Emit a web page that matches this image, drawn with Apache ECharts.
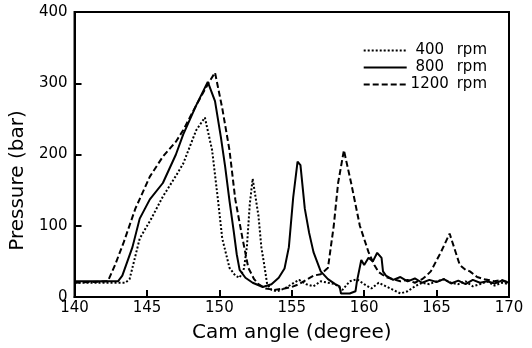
<!DOCTYPE html>
<html>
<head>
<meta charset="utf-8">
<script src="https://cdn.jsdelivr.net/npm/echarts@6/dist/echarts.min.js"></script>
<style>
  html, body { margin: 0; padding: 0; background: #fff; }
  #chart { width: 532px; height: 348px; }
</style>
</head>
<body>
<div id="chart"></div>
<script>
// cam angle (degree), pressure (bar)
const rpm400 = [
  [140, 20], [143.5, 20], [143.8, 25], [144.5, 82], [145.3, 110], [146.1, 141], [147, 170],
  [147.5, 187], [148.4, 234], [149, 252], [149.5, 206], [149.9, 137], [150.2, 82], [150.7, 41],
  [151.1, 30], [151.4, 27], [151.7, 40], [151.9, 70], [152.1, 130], [152.3, 166], [152.5, 140],
  [152.7, 114], [152.9, 70], [153.1, 45], [153.3, 18], [153.6, 10], [154, 8], [154.5, 12],
  [155, 18], [155.5, 24], [156, 18], [156.5, 15], [157, 22], [157.5, 20], [158, 18], [158.5, 10],
  [159, 22], [159.5, 25], [160, 18], [160.5, 12], [161, 20], [161.5, 15], [162, 10], [162.5, 5],
  [163, 8], [163.5, 15], [164, 20], [164.5, 18], [165, 22], [165.5, 25], [166, 20], [166.5, 18],
  [167, 22], [167.5, 15], [168, 18], [168.5, 22], [169, 16], [169.5, 20], [170, 18]
];

const rpm800 = [
  [140, 22], [143, 22], [143.3, 30], [144, 70], [144.5, 110], [145.2, 137], [146.1, 160],
  [147, 200], [147.5, 228], [148.4, 269], [149.2, 302], [149.7, 275], [150.1, 225], [150.4, 183],
  [150.7, 135], [151, 91], [151.2, 60], [151.4, 38], [151.8, 27], [152.3, 20], [153, 14],
  [153.6, 18], [154.1, 27], [154.5, 40], [154.8, 70], [155.1, 140], [155.4, 190], [155.6, 185],
  [155.9, 124], [156.2, 90], [156.5, 63], [157, 36], [157.5, 25], [158, 18], [158.3, 15],
  [158.4, 5], [159, 5], [159.4, 8], [159.5, 22], [159.8, 52], [160, 45], [160.3, 55], [160.6, 50],
  [160.9, 62], [161.2, 55], [161.3, 36], [161.5, 30], [162, 24], [162.5, 28], [163, 22],
  [163.5, 26], [164, 20], [164.5, 24], [165, 21], [165.5, 25], [166, 19], [166.5, 23], [167, 18],
  [167.5, 24], [168, 20], [168.5, 22], [169, 19], [169.5, 23], [170, 20]
];

const rpm1200 = [
  [140, 20], [142.3, 22], [142.8, 45], [143.4, 77], [144.2, 124], [145.2, 169], [146.1, 197],
  [147, 218], [147.5, 234], [148.4, 269], [149.3, 302], [149.7, 315], [150.2, 265], [150.7, 206],
  [151.1, 137], [151.6, 82], [152, 41], [152.4, 25], [152.7, 18], [153.2, 12], [153.8, 10],
  [154.5, 12], [155, 14], [155.5, 18], [156, 24], [156.5, 30], [157, 32], [157.5, 41],
  [157.9, 100], [158.2, 160], [158.6, 206], [159.1, 160], [159.7, 100], [160.3, 63], [160.7, 45],
  [161, 35], [161.5, 28], [162, 25], [162.5, 22], [163, 24], [163.5, 20], [164, 25], [164.3, 30],
  [164.6, 36], [165.3, 63], [165.9, 89], [166.6, 45], [167, 38], [167.3, 36], [167.8, 28],
  [168.3, 25], [169, 22], [169.5, 24], [170, 20]
];

const seriesNames = ['400 rpm', '800 rpm', '1200 rpm'];

const font = 'DejaVu Sans';
const ink = '#000';

function lineSeries(name, data, dash) {
  return {
    name: name,
    type: 'line',
    data: data,
    symbol: 'none',
    smooth: false,
    lineStyle: { color: ink, width: 2, type: dash },
    itemStyle: { color: ink },
  };
}

const myChart = echarts.init(document.getElementById('chart'), null, { renderer: 'canvas' });
const option = {
  backgroundColor: '#fff',
  animation: false,
  grid: {
    left: 72,
    right: 23,
    top: 12,
    bottom: 45,
    show: true,
    borderColor: ink,
    borderWidth: 2,
  },
  legend: {
    data: seriesNames,
    orient: 'vertical',
    right: 40,
    top: 38,
    itemWidth: 43,
    itemHeight: 12,
    itemGap: 2,
    itemStyle: { opacity: 0 },
    formatter: name => {
      const p = name.split(' ');
      return '{n|' + p[0] + '}{u|' + p[1] + '}';
    },
    textStyle: {
      rich: {
        n: { fontFamily: font, fontSize: 15, color: ink, width: 36, align: 'right' },
        u: { fontFamily: font, fontSize: 15, color: ink, padding: [0, 0, 0, 9] },
      },
    },
  },
  xAxis: {
    type: 'value',
    min: 140,
    max: 170,
    interval: 5,
    name: 'Cam angle (degree)',
    nameLocation: 'middle',
    nameGap: 26,
    nameTextStyle: { fontFamily: font, fontSize: 20, color: ink },
    axisLine: { lineStyle: { color: ink, width: 2 } },
    axisTick: { inside: true, length: 7, lineStyle: { color: ink, width: 2 } },
    axisLabel: { fontFamily: font, fontSize: 15, color: ink, margin: 4 },
    splitLine: { show: false },
  },
  yAxis: {
    type: 'value',
    min: 0,
    max: 400,
    interval: 100,
    name: 'Pressure (bar)',
    nameLocation: 'middle',
    nameGap: 42,
    nameTextStyle: { fontFamily: font, fontSize: 20, color: ink, padding: [0, 52, 0, 0] },
    axisLine: { lineStyle: { color: ink, width: 2 } },
    axisTick: { inside: true, length: 7, lineStyle: { color: ink, width: 2 } },
    axisLabel: { fontFamily: font, fontSize: 15, color: ink, margin: 7 },
    splitLine: { show: false },
  },
  series: [
    lineSeries('400 rpm', rpm400, [2, 2]),
    lineSeries('800 rpm', rpm800, 'solid'),
    lineSeries('1200 rpm', rpm1200, [6, 3]),
  ],
};

option && myChart.setOption(option);
</script>
</body>
</html>
